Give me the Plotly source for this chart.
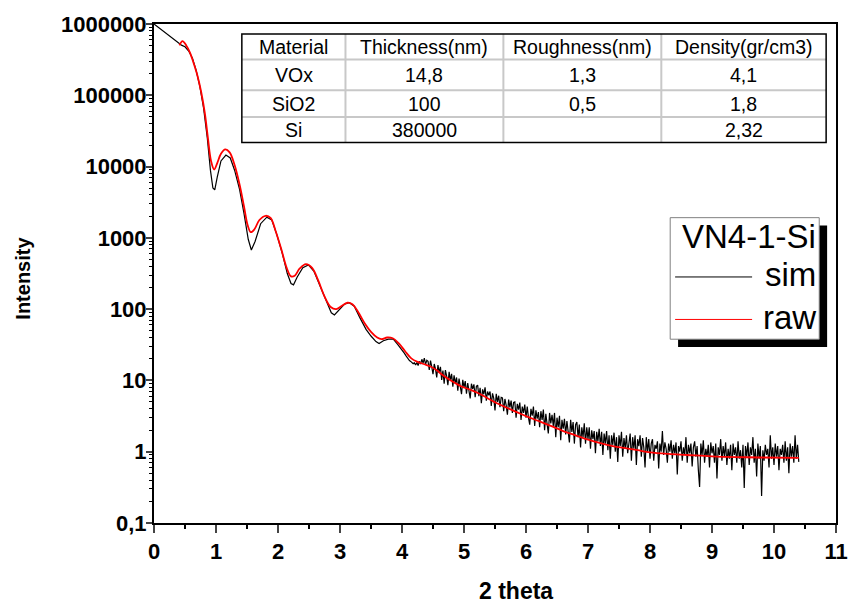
import plotly.graph_objects as go

# ---------------- data ----------------
sim_x_smooth = [0.00, 0.45, 0.50, 0.56, 0.62, 0.68, 0.74, 0.80, 0.86, 0.91, 0.95, 0.98, 1.02, 1.08,
                1.16, 1.23, 1.30, 1.38, 1.45, 1.52, 1.57, 1.63, 1.72, 1.82, 1.90, 1.98, 2.07, 2.15,
                2.21, 2.25, 2.31, 2.40, 2.49, 2.58, 2.68, 2.78, 2.86, 2.91, 2.98, 3.07, 3.15, 3.23,
                3.32, 3.42, 3.50, 3.58, 3.63, 3.70, 3.78, 3.86, 3.93, 4.00]
sim_y_smooth = [1000000, 501000, 479000, 417000, 331000, 224000, 132000, 66000, 25100, 8900, 5000,
                4700, 7100, 12000, 14500, 13200, 8900, 4800, 2240, 955, 676, 891, 1580, 1950, 1780,
                1120, 603, 316, 229, 219, 282, 380, 417, 339, 209, 126, 89, 83, 98, 117, 123, 110,
                76, 52, 42, 35, 33, 36, 38, 38, 32, 27]

sim_x_noisy = [
    4.02, 4.04, 4.06, 4.08, 4.10, 4.12, 4.14, 4.16, 4.18, 4.20,
    4.22, 4.24, 4.26, 4.28, 4.30, 4.32, 4.34, 4.36, 4.38, 4.40,
    4.42, 4.44, 4.46, 4.48, 4.50, 4.52, 4.54, 4.56, 4.58, 4.60,
    4.62, 4.64, 4.66, 4.68, 4.70, 4.72, 4.74, 4.76, 4.78, 4.80,
    4.82, 4.84, 4.86, 4.88, 4.90, 4.92, 4.94, 4.96, 4.98, 5.00,
    5.02, 5.04, 5.06, 5.08, 5.10, 5.12, 5.14, 5.16, 5.18, 5.20,
    5.22, 5.24, 5.26, 5.28, 5.30, 5.32, 5.34, 5.36, 5.38, 5.40,
    5.42, 5.44, 5.46, 5.48, 5.50, 5.52, 5.54, 5.56, 5.58, 5.60,
    5.62, 5.64, 5.66, 5.68, 5.70, 5.72, 5.74, 5.76, 5.78, 5.80,
    5.82, 5.84, 5.86, 5.88, 5.90, 5.92, 5.94, 5.96, 5.98, 6.00,
    6.02, 6.04, 6.06, 6.08, 6.10, 6.12, 6.14, 6.16, 6.18, 6.20,
    6.22, 6.24, 6.26, 6.28, 6.30, 6.32, 6.34, 6.36, 6.38, 6.40,
    6.42, 6.44, 6.46, 6.48, 6.50, 6.52, 6.54, 6.56, 6.58, 6.60,
    6.62, 6.64, 6.66, 6.68, 6.70, 6.72, 6.74, 6.76, 6.78, 6.80,
    6.82, 6.84, 6.86, 6.88, 6.90, 6.92, 6.94, 6.96, 6.98, 7.00,
    7.02, 7.04, 7.06, 7.08, 7.10, 7.12, 7.14, 7.16, 7.18, 7.20,
    7.22, 7.24, 7.26, 7.28, 7.30, 7.32, 7.34, 7.36, 7.38, 7.40,
    7.42, 7.44, 7.46, 7.48, 7.50, 7.52, 7.54, 7.56, 7.58, 7.60,
    7.62, 7.64, 7.66, 7.68, 7.70, 7.72, 7.74, 7.76, 7.78, 7.80,
    7.82, 7.84, 7.86, 7.88, 7.90, 7.92, 7.94, 7.96, 7.98, 8.00,
    8.02, 8.04, 8.06, 8.08, 8.10, 8.12, 8.14, 8.16, 8.18, 8.20,
    8.22, 8.24, 8.26, 8.28, 8.30, 8.32, 8.34, 8.36, 8.38, 8.40,
    8.42, 8.44, 8.46, 8.48, 8.50, 8.52, 8.54, 8.56, 8.58, 8.60,
    8.62, 8.64, 8.66, 8.68, 8.70, 8.72, 8.74, 8.76, 8.78, 8.80,
    8.82, 8.84, 8.86, 8.88, 8.90, 8.92, 8.94, 8.96, 8.98, 9.00,
    9.02, 9.04, 9.06, 9.08, 9.10, 9.12, 9.14, 9.16, 9.18, 9.20,
    9.22, 9.24, 9.26, 9.28, 9.30, 9.32, 9.34, 9.36, 9.38, 9.40,
    9.42, 9.44, 9.46, 9.48, 9.50, 9.52, 9.54, 9.56, 9.58, 9.60,
    9.62, 9.64, 9.66, 9.68, 9.70, 9.72, 9.74, 9.76, 9.78, 9.80,
    9.82, 9.84, 9.86, 9.88, 9.90, 9.92, 9.94, 9.96, 9.98, 10.00,
    10.02, 10.04, 10.06, 10.08, 10.10, 10.12, 10.14, 10.16, 10.18, 10.20,
    10.22, 10.24, 10.26, 10.28, 10.30, 10.32, 10.34, 10.36, 10.38, 10.40]
sim_y_noisy = [
    26, 24, 22.5, 21, 20.5, 19, 18.5, 17.8, 17.2, 17.6,
    16.5, 17.8, 16.2, 18.5, 17, 19.8, 17.5, 20.5, 16.8, 19.2,
    18.5, 14.0, 19.0, 15.5, 12.2, 17.0, 14.5, 11.0, 16.4, 12.8,
    15.5, 10.2, 13.8, 9.0, 14.0, 11.5, 8.6, 13.2, 10.0, 12.4,
    8.2, 11.8, 9.0, 11.0, 7.2, 10.6, 8.5, 6.4, 10.2, 8.0,
    9.8, 6.5, 9.2, 7.2, 5.6, 9.0, 7.6, 8.8, 5.8, 8.3,
    8.6, 6.0, 7.9, 4.8, 7.5, 6.4, 8.0, 5.2, 7.0, 6.2,
    7.0, 4.4, 6.6, 5.6, 3.8, 6.5, 5.0, 6.1, 4.2, 5.8,
    5.7, 3.7, 5.5, 4.5, 3.3, 5.4, 4.2, 5.2, 3.5, 4.9,
    5.0, 3.0, 4.7, 3.9, 4.9, 2.8, 4.3, 3.5, 4.6, 3.0,
    4.3, 3.0, 2.4, 4.0, 3.2, 4.3, 2.3, 3.8, 2.9, 3.6,
    2.2, 3.7, 2.8, 3.9, 2.0, 3.4, 2.6, 1.8, 3.5, 2.5,
    3.3, 2.3, 3.5, 1.6, 3.0, 2.2, 3.2, 1.45, 2.8, 2.1,
    2.9, 1.75, 2.7, 2.0, 1.35, 2.8, 1.9, 2.6, 1.3, 2.4,
    2.6, 1.6, 2.4, 1.15, 2.2, 1.6, 2.5, 1.3, 2.2, 1.5,
    2.2, 1.1, 2.0, 1.5, 1.95, 0.95, 1.9, 1.4, 2.1, 1.2,
    1.9, 0.9, 1.8, 1.3, 1.95, 1.05, 1.7, 0.8, 1.7, 1.25,
    1.85, 1.0, 1.6, 0.72, 1.7, 1.2, 1.9, 0.85, 1.55, 1.1,
    1.7, 0.95, 1.5, 1.8, 0.75, 1.6, 1.1, 1.7, 0.65, 1.5,
    1.2, 1.7, 0.85, 1.55, 1.15, 0.6, 1.6, 1.0, 1.5, 0.8,
    1.3, 1.5, 0.75, 1.25, 1.1, 1.4, 0.58, 1.3, 1.0, 1.95,
    0.9, 1.35, 1.1, 0.7, 1.3, 1.0, 1.45, 0.8, 1.25, 0.95,
    1.35, 0.48, 1.2, 1.0, 1.4, 0.75, 1.15, 0.9, 1.6, 0.7,
    1.25, 0.95, 1.3, 0.62, 1.15, 1.4, 0.85, 1.2, 0.55, 0.32,
    1.3, 0.9, 1.45, 0.7, 1.1, 0.85, 1.25, 0.6, 1.35, 0.95,
    1.2, 0.7, 1.3, 0.42, 1.15, 0.9, 1.5, 0.75, 1.2, 0.85,
    1.35, 0.65, 1.1, 0.8, 1.25, 0.55, 1.3, 0.9, 1.15, 0.7,
    1.4, 0.8, 1.05, 0.6, 1.25, 0.31, 1.2, 0.85, 1.35, 0.65,
    1.15, 0.9, 1.6, 0.7, 1.1, 0.45, 1.3, 0.8, 1.2, 0.24,
    1.05, 0.75, 1.25, 0.9, 1.1, 0.6, 1.7, 0.8, 1.15, 0.65,
    1.3, 0.85, 1.2, 0.55, 1.1, 0.9, 1.25, 0.7, 1.4, 0.75,
    1.15, 0.5, 1.3, 0.85, 1.2, 0.7, 1.7, 0.8, 1.25, 0.72]

raw_x = [0.41, 0.46, 0.52, 0.58, 0.64, 0.70, 0.76, 0.82, 0.87, 0.92, 0.97, 1.02, 1.08, 1.15,
         1.22, 1.30, 1.38, 1.45, 1.51, 1.56, 1.62, 1.70, 1.80, 1.88, 1.96, 2.05, 2.14, 2.21,
         2.27, 2.35, 2.45, 2.55, 2.65, 2.75, 2.85, 2.94, 3.02, 3.12, 3.20, 3.30, 3.40, 3.50,
         3.60, 3.67, 3.76, 3.85, 3.95, 4.05, 4.15, 4.25, 4.35, 4.45, 4.55, 4.65, 4.75, 4.85,
         4.95, 5.10, 5.25, 5.40, 5.55, 5.70, 5.85, 6.00, 6.20, 6.40, 6.60, 6.80, 7.00, 7.20,
         7.40, 7.60, 7.80, 8.00, 8.30, 8.60, 9.00, 9.40, 9.80, 10.40]
raw_y = [501000, 575000, 501000, 398000, 282000, 190000, 112000, 56000, 25000, 12000, 9100,
         11200, 15100, 17400, 15800, 10500, 5600, 2800, 1510, 1200, 1320, 1780, 2040, 1900,
         1260, 708, 380, 288, 295, 372, 427, 380, 251, 151, 107, 100, 110, 123, 117, 89, 63,
         48, 40, 38, 40, 39, 33, 25.7, 20.4, 18.2, 17, 15.8, 14.1, 12, 10.5, 9.3, 8.3, 7.4,
         6.5, 5.5, 4.7, 4.1, 3.6, 3.16, 2.7, 2.3, 1.95, 1.7, 1.48, 1.32, 1.2, 1.12, 1.05,
         0.98, 0.93, 0.90, 0.86, 0.84, 0.83, 0.82]

x_ticks = list(range(0, 12))
y_tickvals = [0.1, 1, 10, 100, 1000, 10000, 100000, 1000000]
y_ticktext = ["0,1", "1", "10", "100", "1000", "10000", "100000", "1000000"]

table_header = ["Material", "Thickness(nm)", "Roughness(nm)", "Density(gr/cm3)"]
table_rows = [["VOx", "14,8", "1,3", "4,1"],
              ["SiO2", "100", "0,5", "1,8"],
              ["Si", "380000", "", "2,32"]]

legend_title = "VN4-1-Si"
series_names = ["sim", "raw"]
series_colors = ["black", "red"]
x_title = "2 theta"
y_title = "Intensity"

# ---------------- figure ----------------
W, H = 860, 612
L, R, T, B = 154, 845, 18, 523


def px(xp):
    return (xp - L) / (R - L)


def py(yp):
    return (B - yp) / (B - T)


fig = go.Figure()
fig.add_trace(go.Scatter(x=sim_x_smooth + sim_x_noisy, y=sim_y_smooth + sim_y_noisy,
                         mode="lines", line=dict(color=series_colors[0], width=1.2),
                         name=series_names[0], showlegend=False))
fig.add_trace(go.Scatter(x=raw_x, y=raw_y, mode="lines", line_shape="spline",
                         line=dict(color=series_colors[1], width=1.8),
                         name=series_names[1], showlegend=False))

minor_y = [m * 10 ** e for e in range(-1, 6) for m in range(2, 10)]

fig.update_layout(
    width=W, height=H, margin=dict(l=L, r=W - R, t=T, b=H - B),
    paper_bgcolor="white", plot_bgcolor="white",
    font=dict(family="Liberation Sans, Arial", color="black"),
    xaxis=dict(range=[0, 11], tickvals=x_ticks, ticks="outside", ticklen=8, tickwidth=2,
               showline=True, linewidth=2, linecolor="black", mirror=True, showgrid=False,
               zeroline=False,
               tickfont=dict(size=22, weight="bold"),
               minor=dict(tickvals=[i + 0.5 for i in range(11)], ticks="outside", ticklen=4,
                          tickwidth=2, tickcolor="black")),
    yaxis=dict(type="log", range=[-1, 6], tickvals=y_tickvals, ticktext=y_ticktext,
               ticks="outside", ticklen=6, tickwidth=2, ticklabelstandoff=-5,
               showline=True, linewidth=2, linecolor="black", mirror=True, showgrid=False,
               zeroline=False,
               tickfont=dict(size=22, weight="bold"),
               minor=dict(tickvals=minor_y, ticks="outside", ticklen=3, tickwidth=1,
                          tickcolor="black")),
)

annotations = []
annotations.append(dict(text="<b>%s</b>" % x_title, xref="paper", yref="paper",
                        x=px(521), y=py(592), showarrow=False, xanchor="center",
                        yanchor="middle", font=dict(size=23)))
annotations.append(dict(text="<b>%s</b>" % y_title, xref="paper", yref="paper",
                        x=px(21), y=py(275), showarrow=False, xanchor="center",
                        yanchor="middle", textangle=-90, font=dict(size=20)))

# ---------------- table ----------------
col_edges = [243, 348, 508, 668, 835]
row_edges = [28, 54, 85, 112, 138]
shapes = []
for xe in col_edges[1:-1]:
    shapes.append(dict(type="line", xref="paper", yref="paper", x0=px(xe), x1=px(xe),
                       y0=py(row_edges[0]), y1=py(row_edges[-1]),
                       line=dict(color="#c8c8c8", width=2)))
for ye in row_edges[1:-1]:
    shapes.append(dict(type="line", xref="paper", yref="paper", x0=px(col_edges[0]),
                       x1=px(col_edges[-1]), y0=py(ye), y1=py(ye),
                       line=dict(color="#c8c8c8", width=2)))
shapes.append(dict(type="rect", xref="paper", yref="paper", x0=px(col_edges[0]),
                   x1=px(col_edges[-1]), y0=py(row_edges[0]), y1=py(row_edges[-1]),
                   line=dict(color="black", width=1.5)))

all_rows = [table_header] + table_rows
for r, row in enumerate(all_rows):
    yc = (row_edges[r] + row_edges[r + 1]) / 2
    for c, txt in enumerate(row):
        xc = (col_edges[c] + col_edges[c + 1]) / 2
        annotations.append(dict(text=txt, xref="paper", yref="paper", x=px(xc), y=py(yc),
                                showarrow=False, xanchor="center", yanchor="middle",
                                font=dict(size=19.5, family="Liberation Sans, Arial")))

# ---------------- legend (custom, with shadow) ----------------
lx0, lx1, ly0, ly1 = 677, 828, 214, 337
sh = 8
shapes.append(dict(type="rect", xref="paper", yref="paper", x0=px(lx0 + sh), x1=px(lx1 + sh),
                   y0=py(ly0 + sh), y1=py(ly1 + sh), fillcolor="black",
                   line=dict(color="black", width=0)))
shapes.append(dict(type="rect", xref="paper", yref="paper", x0=px(lx0), x1=px(lx1),
                   y0=py(ly0), y1=py(ly1), fillcolor="white",
                   line=dict(color="#808080", width=1)))
annotations.append(dict(text=legend_title, xref="paper", yref="paper", x=px(827), y=py(233),
                        showarrow=False, xanchor="right", yanchor="middle",
                        font=dict(size=33, family="Liberation Sans, Arial")))
for i, (nm, col) in enumerate(zip(series_names, series_colors)):
    yy = 274 + i * 43
    shapes.append(dict(type="line", xref="paper", yref="paper", x0=px(682), x1=px(760),
                       y0=py(yy), y1=py(yy), line=dict(color=col, width=1)))
    annotations.append(dict(text=nm, xref="paper", yref="paper", x=px(827), y=py(yy - 2),
                            showarrow=False, xanchor="right", yanchor="middle",
                            font=dict(size=33, family="Liberation Sans, Arial")))

fig.update_layout(shapes=shapes, annotations=annotations)
fig.write_html("out.html")
